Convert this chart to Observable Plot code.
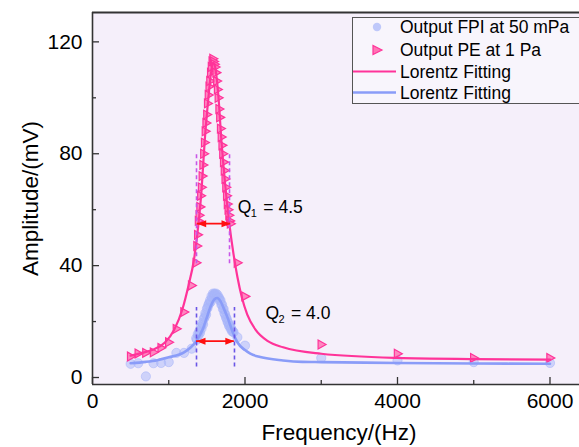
<!DOCTYPE html>
<html>
<head>
<meta charset="utf-8">
<script src="https://cdn.jsdelivr.net/npm/d3@7"></script>
<script src="https://cdn.jsdelivr.net/npm/@observablehq/plot@0.6"></script>
<style>
  html, body { margin: 0; padding: 0; background: white; }
  #wrap { position: relative; width: 579px; height: 447px; overflow: hidden; font-family: "Liberation Sans", Arial, sans-serif; }
  #legend { position: absolute; left: 352px; top: 17px; }
</style>
</head>
<body>
<div id="wrap"></div>
<script>
// ---- data ----
const peF = [500,600,700,800,900,1000,1100,1200,1300,
  1360,1370,1380,1390,1400,1410,1420,1430,1440,1450,1460,1470,1480,1490,1500,1510,1520,1530,1540,1550,1560,1570,1580,1590,
  1600,1610,1620,1630,1640,1650,1660,1670,1680,1690,1700,1710,1720,1730,1740,1750,1760,1770,1780,1790,1800,1810,
  1900,2000,3000,4000,5000,6000];
const peV = [7.5,8.6,8.8,9.0,10.6,12.6,17.4,23.4,32.9,
  41,47,51,56,58,61,65,68,72,76,80,84,88,91,94,98,101,104,106,109,111,113,114,113,
  112,111,109,106,103,100,96,93,89,86,83,80,77,74,71,68,65,62,60,58,56,55,
  41,29,11.8,8.5,7.0,7.0];

const fpiF = [500,600,700,800,900,1000,1100,1200,1300,
  1360,1370,1380,1390,1400,1410,1420,1430,1440,1450,1460,1470,1480,1490,1500,1510,1520,1530,1540,1550,1560,1570,1580,1590,
  1600,1610,1620,1630,1640,1650,1660,1670,1680,1690,1700,1710,1720,1730,1740,1750,1760,1770,1780,1790,1800,1810,1820,1830,1840,1850,
  1900,2000,3000,4000,5000,6000];
const fpiV = [4.9,5.1,0.4,5.1,5.2,5.5,8.8,8.8,10.3,
  14,13.5,15.5,15,16.5,16,18,17.5,19.5,19,21,21.5,23,22.5,24.5,25,26,26.5,27.5,27,29,28.5,30,29.5,
  30,29.5,30,29,29.5,28.5,28.5,27.5,27.5,26,26,24.5,24.5,23,22.5,21.5,21,20,19.5,18.5,18.5,17.5,17.5,16.5,16.5,16.2,
  14.4,11.4,7.0,6.1,5.5,5.2];

const pinkFitF = [500,650,800,950,1070,1180,1260,1330,1390,1430,1470,1520,1555,1585,1615,1650,1690,1740,1790,1850,1900,1960,2030,2140,2300,2500,3000,4000,5000,6000];
const pinkFitV = [7.8,8.8,10,12.5,17,24.5,33,42,55,67,84,100,109,112.6,110,101,85,69,56,44,36,28.5,22.5,17,13,10.8,8.5,7.0,6.6,6.4];

const blueFitF = [500,700,850,1000,1200,1290,1360,1450,1500,1550,1600,1635,1680,1720,1770,1850,1900,2000,2070,2200,2500,2750,3000,4000,5000,6000];
const blueFitV = [5.1,5.6,6.2,7.2,9.0,10.8,13,17.5,21.5,25.5,28,28.4,27.2,24.8,21.5,15.5,12.6,9.8,8.5,7.3,6.1,5.6,5.5,5.2,5.0,4.9];

const xTicks = [0,2000,4000,6000];
const xMinor = [1000,3000,5000];
const yTicks = [0,40,80,120];
const yMinor = [20,60,100];

// FWHM markers
const arrowY = [55,13];
const arrowX1 = [1373,1364];
const arrowX2 = [1810,1860];
const pinkDashX = [1364,1797];
const blueDashX = [1364,1862];

const legendLabels = ["Output FPI at 50 mPa","Output PE at 1 Pa","Lorentz Fitting","Lorentz Fitting"];

// ---- build ----
const xDom = [0, 6387];
const yDom = [-2.5, 130.5];
const pxX = (6000 - 0) / (549.5 - 92);   // data units per px (x)
const pxY = 120 / (377 - 41.5);          // data units per px (y)

const pe = peF.map((f,i)=>({f, v: peV[i]}));
const fpi = fpiF.map((f,i)=>({f, v: fpiV[i]}));
const pinkFit = pinkFitF.map((f,i)=>({f, v: pinkFitV[i]}));
const blueFit = blueFitF.map((f,i)=>({f, v: blueFitV[i]}));
const arrows = arrowY.map((y,i)=>({y, x1: arrowX1[i], x2: arrowX2[i]}));

const rightTri = { draw(ctx, size) { const s = Math.sqrt(size/Math.PI); ctx.moveTo(1.15*s,0); ctx.lineTo(-0.75*s,-1.05*s); ctx.lineTo(-0.75*s,1.05*s); ctx.closePath(); } };
const headR = { draw(ctx) { ctx.moveTo(0,0); ctx.lineTo(-9,-3.5); ctx.lineTo(-9,3.5); ctx.closePath(); } };
const headL = { draw(ctx) { ctx.moveTo(0,0); ctx.lineTo(9,-3.5); ctx.lineTo(9,3.5); ctx.closePath(); } };

const axisCol = "#333";
const pink = "#ff3399";
const blue = "#8a9cf8";

const chart = Plot.plot({
  width: 579, height: 447,
  marginLeft: 92, marginRight: 0, marginTop: 12, marginBottom: 63,
  style: { fontFamily: "'Liberation Sans', Arial, sans-serif", background: "white", color: "black" },
  x: { domain: xDom },
  y: { domain: yDom },
  marks: [
    Plot.frame({ fill: "#f5effa", stroke: "none" }),
    Plot.axisY({ ticks: yTicks, tickSize: 0, tickPadding: 10, fontSize: 21, tickFormat: d => String(d), label: null }),
    Plot.axisX({ ticks: xTicks, tickSize: 0, tickPadding: 9, fontSize: 21, tickFormat: d => String(d), label: null }),
    Plot.ruleX(xTicks, { y1: yDom[0], y2: yDom[0] + 7*pxY, stroke: axisCol, strokeWidth: 1.3 }),
    Plot.ruleX(xMinor, { y1: yDom[0], y2: yDom[0] + 4*pxY, stroke: axisCol, strokeWidth: 1.3 }),
    Plot.ruleY(yTicks, { x1: 0, x2: 7*pxX, stroke: axisCol, strokeWidth: 1.3 }),
    Plot.ruleY(yMinor, { x1: 0, x2: 4*pxX, stroke: axisCol, strokeWidth: 1.3 }),
    Plot.dot(fpi, { x: "f", y: "v", r: 4.6, fill: "#a7b5fa", fillOpacity: 0.5, stroke: "#a7b5fa", strokeOpacity: 0.55, strokeWidth: 1 }),
    Plot.dot(pe, { x: "f", y: "v", r: 4.2, symbol: rightTri, fill: "#ff75b5", fillOpacity: 0.85, stroke: pink, strokeWidth: 1.2 }),
    Plot.line(pinkFit, { x: "f", y: "v", stroke: pink, strokeWidth: 2.2, curve: "monotone-x" }),
    Plot.line(blueFit, { x: "f", y: "v", stroke: blue, strokeWidth: 2.6, curve: "monotone-x" }),
    Plot.ruleX(pinkDashX, { y1: 40.7, y2: 80, stroke: "#c857e8", strokeWidth: 1.6, strokeDasharray: "4,3" }),
    Plot.ruleX(blueDashX, { y1: 3.8, y2: 25, stroke: "#6a55e6", strokeWidth: 1.6, strokeDasharray: "4,3" }),
    Plot.ruleY(arrows, { y: "y", x1: "x1", x2: "x2", stroke: "#ff1010", strokeWidth: 1.6 }),
    Plot.dot(arrows, { x: "x2", y: "y", symbol: headR, r: 4, fill: "#ff1010", stroke: "none" }),
    Plot.dot(arrows, { x: "x1", y: "y", symbol: headL, r: 4, fill: "#ff1010", stroke: "none" }),
    Plot.text(["Q"], { x: 1906, y: 60.9, textAnchor: "start", lineAnchor: "middle", fontSize: 17.5 }),
    Plot.text(["1"], { x: 1906, y: 60.9, dx: 13, dy: 6.5, textAnchor: "start", lineAnchor: "middle", fontSize: 11 }),
    Plot.text(["= 4.5"], { x: 1906, y: 60.9, dx: 25.5, textAnchor: "start", lineAnchor: "middle", fontSize: 17.5 }),
    Plot.text(["Q"], { x: 2269, y: 23.0, textAnchor: "start", lineAnchor: "middle", fontSize: 17.5 }),
    Plot.text(["2"], { x: 2269, y: 23.0, dx: 13, dy: 6.5, textAnchor: "start", lineAnchor: "middle", fontSize: 11 }),
    Plot.text(["= 4.0"], { x: 2269, y: 23.0, dx: 25.5, textAnchor: "start", lineAnchor: "middle", fontSize: 17.5 }),
    Plot.ruleX([0], { stroke: axisCol, strokeWidth: 1.6 }),
    Plot.ruleY([yDom[0]], { stroke: axisCol, strokeWidth: 1.6 }),
    Plot.ruleY([yDom[1]], { stroke: axisCol, strokeWidth: 2 }),
    Plot.text(["Amplitude/(mV)"], { frameAnchor: "left", dx: -62, rotate: -90, fontSize: 22.5, textAnchor: "middle" }),
    Plot.text(["Frequency/(Hz)"], { frameAnchor: "bottom", dy: 48, dx: 3, fontSize: 22.5, textAnchor: "middle", lineAnchor: "middle" })
  ]
});

const wrap = document.getElementById("wrap");
wrap.appendChild(chart);

// legend overlay
const lg = d3.select(wrap).append("svg").attr("id","legend").attr("width", 240).attr("height", 88);
lg.append("rect").attr("x",0.5).attr("y",0.5).attr("width",260).attr("height",86)
  .attr("fill","#f8f5fc").attr("stroke","#555").attr("stroke-width",1);
const rows = [10, 33, 54.5, 75.5];
lg.append("circle").attr("cx",25).attr("cy",rows[0]).attr("r",4.2).attr("fill","#a7b5fa").attr("fill-opacity",0.7);
lg.append("path").attr("transform",`translate(25,${rows[1]})`).attr("d","M5,0L-4,-4.5L-4,4.5Z").attr("fill","#ff75b5").attr("stroke",pink).attr("stroke-width",1.2);
lg.append("line").attr("x1",1).attr("x2",44).attr("y1",rows[2]).attr("y2",rows[2]).attr("stroke",pink).attr("stroke-width",2.2);
lg.append("line").attr("x1",1).attr("x2",44).attr("y1",rows[3]).attr("y2",rows[3]).attr("stroke",blue).attr("stroke-width",2.6);
legendLabels.forEach((t,i)=>{
  lg.append("text").attr("x",48).attr("y",rows[i]).attr("dy","0.35em")
    .attr("font-size",17.5).attr("font-family","'Liberation Sans', Arial, sans-serif").attr("fill","black").text(t);
});
</script>
</body>
</html>
